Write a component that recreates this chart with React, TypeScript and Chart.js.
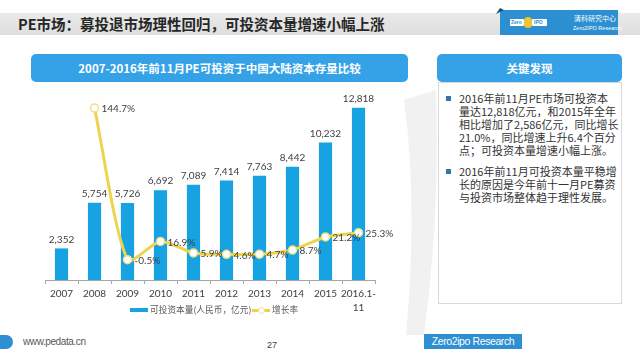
import React, { useEffect, useRef } from "react";
import { Chart, registerables } from "chart.js";

Chart.register(...registerables);

// ---- data ----
const categories: (string | string[])[] = [
  "2007", "2008", "2009", "2010", "2011", "2012", "2013", "2014", "2015", ["2016.1-", "11"],
];
const capitalValues = [2352, 5754, 5726, 6692, 7089, 7414, 7763, 8442, 10232, 12818];
const growthRates: (number | null)[] = [null, 144.7, -0.5, 16.9, 5.9, 4.6, 4.7, 8.7, 21.2, 25.3];
const barSeriesName = "可投资本量(人民币，亿元)";
const lineSeriesName = "增长率";

const BAR_COLOR = "#17a2e2";
const LINE_COLOR = "#ecd44c";
const LABEL_FONT = "10px Lato, 'Noto Sans', sans-serif";
const CJK = "'Noto Sans CJK SC', 'Noto Sans', sans-serif";

const valueLabelPlugin = {
  id: "valueLabels",
  afterDatasetsDraw(chart: any) {
    const ctx = chart.ctx;
    ctx.save();
    ctx.font = LABEL_FONT;
    ctx.fillStyle = "#404040";
    const barMeta = chart.getDatasetMeta(0);
    barMeta.data.forEach((el: any, i: number) => {
      const v = capitalValues[i];
      ctx.textAlign = "center";
      ctx.textBaseline = "bottom";
      ctx.fillText(v.toLocaleString("en-US"), el.x, el.y - 4);
    });
    const lineMeta = chart.getDatasetMeta(1);
    lineMeta.data.forEach((el: any, i: number) => {
      const v = growthRates[i];
      if (v === null || v === undefined) return;
      ctx.textAlign = "left";
      ctx.textBaseline = "middle";
      ctx.fillText(v.toFixed(1) + "%", el.x + 7, el.y + 1);
    });
    ctx.restore();
  },
};

function ChartCanvas() {
  const ref = useRef<HTMLCanvasElement>(null);
  useEffect(() => {
    if (!ref.current) return;
    const chart = new Chart(ref.current, {
      type: "bar",
      data: {
        labels: categories as any,
        datasets: [
          {
            type: "bar",
            label: barSeriesName,
            data: capitalValues,
            backgroundColor: BAR_COLOR,
            yAxisID: "y",
            barPercentage: 0.4,
            categoryPercentage: 1,
            order: 2,
          } as any,
          {
            type: "line",
            label: lineSeriesName,
            data: growthRates,
            borderColor: LINE_COLOR,
            borderWidth: 3,
            pointBackgroundColor: "#ffffff",
            pointBorderColor: "#efdf86",
            pointBorderWidth: 1.5,
            pointRadius: 4,
            tension: 0.25,
            yAxisID: "y1",
            spanGaps: false,
            order: 1,
          } as any,
        ],
      },
      options: {
        responsive: false,
        animation: false,
        devicePixelRatio: 1,
        layout: { padding: { left: 25, right: 25, top: 7, bottom: 0 } },
        plugins: { legend: { display: false }, tooltip: { enabled: false } },
        scales: {
          x: {
            offset: true,
            grid: {
              offset: true,
              drawOnChartArea: false,
              drawTicks: true,
              tickLength: 4,
              color: "#a6a6a6",
            },
            border: { display: true, color: "#a6a6a6" },
            ticks: {
              color: "#404040",
              font: { family: "Lato, 'Noto Sans', sans-serif", size: 10, lineHeight: 1.4 },
              padding: 3,
              maxRotation: 0,
              autoSkip: false,
            },
            afterFit: (scale: any) => {
              scale.height = 50;
            },
          },
          y: { display: false, min: 0, max: 14000 },
          y1: { display: false, min: -20, max: 160, position: "right" },
        },
      },
      plugins: [valueLabelPlugin],
    });
    return () => chart.destroy();
  }, []);
  return <canvas ref={ref} width={380} height={245} style={{ display: "block" }} />;
}

const abs = (l: number, t: number, w?: number, h?: number): React.CSSProperties => ({
  position: "absolute",
  left: l,
  top: t,
  ...(w !== undefined ? { width: w } : {}),
  ...(h !== undefined ? { height: h } : {}),
});

export default function App() {
  const bullet1 = [
    "2016年前11月PE市场可投资本",
    "量达12,818亿元，和2015年全年",
    "相比增加了2,586亿元，同比增长",
    "21.0%，同比增速上升6.4个百分",
    "点；可投资本量增速小幅上涨。",
  ];
  const bullet2 = [
    "2016年前11月可投资本量平稳增",
    "长的原因是今年前十一月PE募资",
    "与投资市场整体趋于理性发展。",
  ];
  const bulletText: React.CSSProperties = {
    fontFamily: CJK,
    fontSize: 11,
    lineHeight: "13px",
    color: "#333333",
    whiteSpace: "nowrap",
  };
  return (
    <div style={{ ...abs(0, 0, 640, 360), background: "#ffffff", overflow: "hidden" }}>
      {/* decorative background swoosh */}
      <svg style={abs(0, 0, 640, 360)} width={640} height={360}>
        <path d="M404 100 Q418 200 406 335 L424 335 Q440 220 436 90 Z" fill="#f1f1f1" />
      </svg>

      {/* title band */}
      <div style={{ ...abs(0, 13, 640, 22), background: "linear-gradient(#e9e9e9,#dedede)" }} />
      <div
        style={{
          ...abs(18, 13, 420, 22),
          fontFamily: CJK,
          fontSize: 14.5,
          fontWeight: 600,
          lineHeight: "22px",
          color: "#262626",
          whiteSpace: "nowrap",
        }}
      >
        PE市场：募投退市场理性回归，可投资本量增速小幅上涨
      </div>

      {/* logo box */}
      <div style={{ ...abs(500, 10, 118, 25), background: "#2b8fd2" }} />
      <svg style={abs(496, 8, 8, 6)} width={8} height={6}>
        <polygon points="0,6 4,0 8,2" fill="#1b4f7a" />
      </svg>
      <div style={{ ...abs(510, 19, 14, 7), background: "#ffffff", borderRadius: 1 }} />
      <div style={{ ...abs(524, 17, 8, 11), background: "#f2c530", borderRadius: 4 }} />
      <div style={{ ...abs(532, 19, 15, 7), background: "#ffffff", borderRadius: 1 }} />
      <div
        style={{
          ...abs(511, 19, 13, 7),
          fontFamily: "'Liberation Sans', sans-serif",
          fontSize: 5,
          lineHeight: "7px",
          color: "#2b8fd2",
          fontWeight: 700,
        }}
      >
        Zero
      </div>
      <div
        style={{
          ...abs(534, 19, 13, 7),
          fontFamily: "'Liberation Sans', sans-serif",
          fontSize: 5,
          lineHeight: "7px",
          color: "#2b8fd2",
          fontWeight: 700,
        }}
      >
        IPO
      </div>
      <div
        style={{
          ...abs(574, 14, 40, 9),
          fontFamily: CJK,
          fontSize: 7,
          lineHeight: "9px",
          color: "#ffffff",
          whiteSpace: "nowrap",
        }}
      >
        清科研究中心
      </div>
      <div
        style={{
          ...abs(573, 24, 44, 8),
          fontFamily: "'Liberation Sans', sans-serif",
          fontSize: 5.5,
          lineHeight: "8px",
          color: "#ffffff",
          whiteSpace: "nowrap",
        }}
      >
        Zero2IPO Research
      </div>

      {/* chart banner */}
      <div
        style={{
          ...abs(31, 54, 377, 28),
          background: "#35a2e8",
          borderRadius: 5,
          color: "#ffffff",
          fontFamily: CJK,
          fontSize: 11.5,
          fontWeight: 700,
          lineHeight: "28px",
          textAlign: "center",
          whiteSpace: "nowrap",
        }}
      >
        2007-2016年前11月PE可投资于中国大陆资本存量比较
      </div>

      {/* chart */}
      <div style={abs(20, 85, 380, 245)}>
        <ChartCanvas />
      </div>

      {/* legend */}
      <div style={{ ...abs(130, 308, 18, 4), background: BAR_COLOR }} />
      <div
        style={{
          ...abs(150, 303, 100, 13),
          fontFamily: CJK,
          fontSize: 8.7,
          lineHeight: "13px",
          color: "#595959",
          whiteSpace: "nowrap",
        }}
      >
        {barSeriesName}
      </div>
      <div style={{ ...abs(252, 308.5, 18, 3), background: LINE_COLOR }} />
      <div
        style={{
          ...abs(257.5, 306.5, 7, 7),
          background: "#ffffff",
          border: "1px solid #efdf86",
          borderRadius: "50%",
          boxSizing: "border-box",
        }}
      />
      <div
        style={{
          ...abs(272, 303, 40, 13),
          fontFamily: CJK,
          fontSize: 8.7,
          lineHeight: "13px",
          color: "#595959",
          whiteSpace: "nowrap",
        }}
      >
        {lineSeriesName}
      </div>

      {/* right panel */}
      <div
        style={{
          ...abs(437, 54, 185, 28),
          background: "#35a2e8",
          borderRadius: 5,
          color: "#ffffff",
          fontFamily: CJK,
          fontSize: 11.5,
          fontWeight: 700,
          lineHeight: "28px",
          textAlign: "center",
        }}
      >
        关键发现
      </div>
      <div
        style={{
          ...abs(438, 82, 184, 222),
          border: "1px solid #d9d9d9",
          boxSizing: "border-box",
          background: "#ffffff",
        }}
      />
      <div style={{ ...abs(446, 95.5, 5, 5), background: "#2e75b6" }} />
      <div style={{ ...bulletText, ...abs(459, 91.5) }}>
        {bullet1.map((s, i) => (
          <div key={i}>{s}</div>
        ))}
      </div>
      <div style={{ ...abs(446, 169, 5, 5), background: "#2e75b6" }} />
      <div style={{ ...bulletText, ...abs(459, 165) }}>
        {bullet2.map((s, i) => (
          <div key={i}>{s}</div>
        ))}
      </div>

      {/* footer */}
      <div style={{ ...abs(0, 335, 13, 14), background: "#2e8fd3", borderRadius: "0 7px 7px 0" }} />
      <div
        style={{
          ...abs(23, 335, 80, 14),
          fontFamily: "'Liberation Sans', sans-serif",
          fontSize: 10,
          letterSpacing: -0.4,
          lineHeight: "14px",
          color: "#595959",
          whiteSpace: "nowrap",
        }}
      >
        www.pedata.cn
      </div>
      <div
        style={{
          ...abs(262, 339, 20, 12),
          fontFamily: "'Liberation Sans', sans-serif",
          fontSize: 9,
          lineHeight: "12px",
          color: "#404040",
          textAlign: "center",
        }}
      >
        27
      </div>
      <div
        style={{
          ...abs(424, 334, 98, 15),
          background: "#2e8fd3",
          color: "#ffffff",
          fontFamily: "'Liberation Sans', sans-serif",
          fontSize: 10.5,
          letterSpacing: -0.4,
          lineHeight: "15px",
          textAlign: "center",
          whiteSpace: "nowrap",
        }}
      >
        Zero2ipo Research
      </div>
    </div>
  );
}
